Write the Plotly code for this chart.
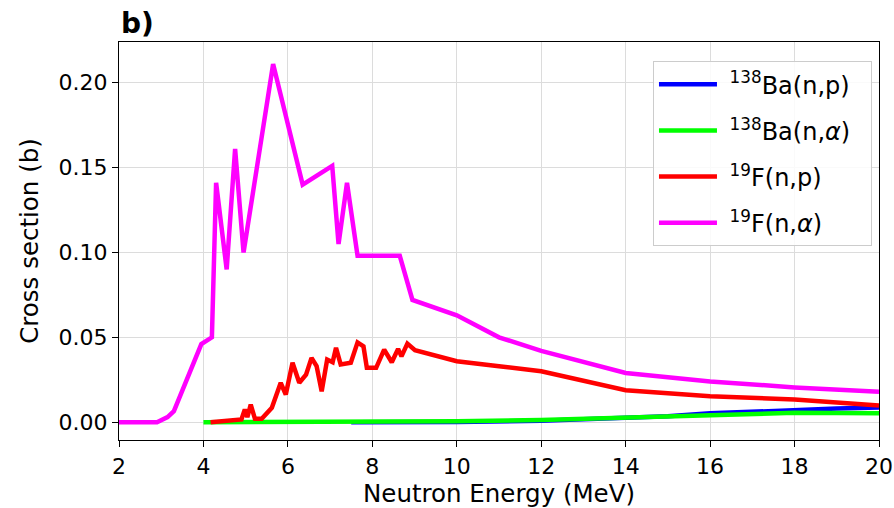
import plotly.graph_objects as go

# ---- data ----
ba_np_E = [7.5, 8, 10, 12, 13, 14, 15, 16, 17, 18, 19, 20]
ba_np_xs = [0.0, 0.0, 0.0001, 0.0008, 0.0015, 0.0022, 0.0035, 0.0052, 0.0063, 0.0073, 0.0080, 0.0086]

ba_na_E = [4, 6, 8, 10, 12, 13, 14, 15, 16, 17, 18, 19, 20]
ba_na_xs = [0.0, 0.0001, 0.0002, 0.0005, 0.0013, 0.0020, 0.0027, 0.0037, 0.0047, 0.0053, 0.0055, 0.0054, 0.0052]

f_np_E = [4.17, 4.9, 4.98, 5.04, 5.12, 5.22, 5.38, 5.62, 5.83, 5.95, 6.11, 6.27, 6.43,
          6.56, 6.68, 6.8, 6.93, 7.06, 7.14, 7.25, 7.49, 7.65, 7.79, 7.87, 8.09, 8.28,
          8.46, 8.61, 8.69, 8.83, 9.01, 10, 11, 12, 14, 16, 18, 20]
f_np_xs = [0.0, 0.0016, 0.0075, 0.003, 0.0104, 0.002, 0.002, 0.0085, 0.0232, 0.0163, 0.035,
           0.0232, 0.028, 0.0379, 0.033, 0.0182, 0.0369, 0.0353, 0.0438, 0.034, 0.035, 0.047,
           0.0447, 0.032, 0.032, 0.0428, 0.0353, 0.0432, 0.0388, 0.0463, 0.0424, 0.0359,
           0.033, 0.030, 0.0188, 0.0153, 0.0134, 0.0098]

f_na_E = [2, 2.9, 3.15, 3.3, 3.95, 4.2, 4.3, 4.55, 4.75, 4.95, 5.65, 6.35, 7.05, 7.2, 7.4,
          7.65, 8.65, 8.95, 10, 11, 12, 14, 16, 18, 20]
f_na_xs = [0.0, 0.0, 0.003, 0.0065, 0.046, 0.05, 0.141, 0.09, 0.161, 0.1, 0.211, 0.14, 0.151,
           0.105, 0.141, 0.098, 0.098, 0.072, 0.063, 0.05, 0.042, 0.029, 0.024, 0.0205, 0.018]

x_ticks = [2, 4, 6, 8, 10, 12, 14, 16, 18, 20]
y_ticks = [0.0, 0.05, 0.10, 0.15, 0.20]

series_names = ["<sup>138</sup>Ba(n,p)", "<sup>138</sup>Ba(n,<i>α</i>)",
                "<sup>19</sup>F(n,p)", "<sup>19</sup>F(n,<i>α</i>)"]
series_colors = ["#0000ff", "#00ff00", "#ff0000", "#ff00ff"]
series_x = [ba_np_E, ba_na_E, f_np_E, f_na_E]
series_y = [ba_np_xs, ba_na_xs, f_np_xs, f_na_xs]

FONT = "DejaVu Sans"
NB = "\u00a0"

fig = go.Figure()
for i, (name, xs, ys, col) in enumerate(zip(series_names, series_x, series_y, series_colors)):
    fig.add_trace(go.Scatter(x=xs, y=ys, mode="lines", name=NB + name + NB + NB,
                             legendgroup=f"g{i}", line=dict(color=col, width=4.5)))

axis_common = dict(
    showline=True, linecolor="black", linewidth=1.3, mirror=True,
    ticks="outside", ticklen=6, tickwidth=1.2, tickcolor="black",
    showgrid=True, gridcolor="#dcdcdc", gridwidth=1, zeroline=False,
    automargin=False,
    tickfont=dict(family=FONT, size=22, color="black"),
)

fig.update_xaxes(range=[2, 20], tickvals=x_ticks, ticktext=[str(v) for v in x_ticks],
                 title=dict(text="Neutron Energy (MeV)", font=dict(family=FONT, size=24.5, color="black"), standoff=6),
                 **axis_common)
fig.update_yaxes(range=[-0.0105, 0.224], tickvals=y_ticks, ticktext=[f"{v:.2f}" for v in y_ticks],
                 title=dict(text="Cross section (b)", font=dict(family=FONT, size=24.5, color="black"), standoff=12),
                 **axis_common)

fig.update_layout(
    template="none",
    width=894, height=508,
    margin=dict(l=119, r=15, t=42, b=68, autoexpand=False),
    paper_bgcolor="white", plot_bgcolor="white",
    font=dict(family=FONT, size=22, color="black"),
    showlegend=True,
    hovermode=False,
    legend=dict(x=0.7026, y=0.952, xanchor="left", yanchor="top",
                bgcolor="rgba(255,255,255,0.85)", bordercolor="#cccccc", borderwidth=1,
                font=dict(family=FONT, size=24, color="black"),
                tracegroupgap=12, itemwidth=58),
    annotations=[dict(text="<b>b)</b>", xref="paper", yref="paper", x=0, y=1.0,
                      xanchor="left", yanchor="bottom", yshift=0, showarrow=False,
                      font=dict(family=FONT, size=28, color="black"))],
)

fig.write_html("out.html", config={"displayModeBar": False},
               post_script="document.body.style.margin='0';document.body.style.overflow='hidden';")
